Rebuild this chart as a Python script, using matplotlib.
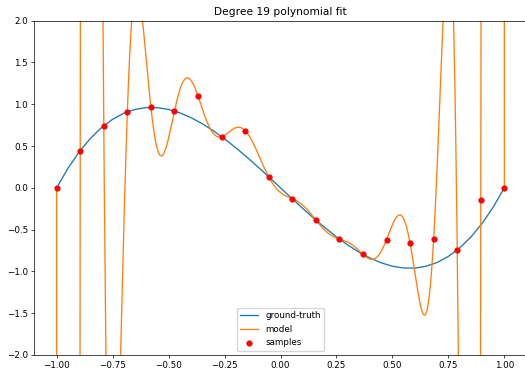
import numpy as np
import matplotlib
matplotlib.use("Agg")
import matplotlib.pyplot as plt

# Samples
sample_x = [-1.0, -0.8947, -0.7895, -0.6842, -0.5789, -0.4737, -0.3684, -0.2632,
            -0.1579, -0.0526, 0.0526, 0.1579, 0.2632, 0.3684, 0.4737, 0.5789,
            0.6842, 0.7895, 0.8947, 1.0]
sample_y = [0.0, 0.446, 0.744, 0.910, 0.962, 0.919, 1.096, 0.612,
            0.685, 0.131, -0.131, -0.385, -0.612, -0.796, -0.619, -0.662,
            -0.610, -0.744, -0.146, 0.0]

# Ground-truth curve
gt_x = [-1.00, -0.95, -0.90, -0.85, -0.80, -0.75, -0.70, -0.65, -0.60, -0.55,
        -0.50, -0.45, -0.40, -0.35, -0.30, -0.25, -0.20, -0.15, -0.10, -0.05,
        0.00, 0.05, 0.10, 0.15, 0.20, 0.25, 0.30, 0.35, 0.40, 0.45,
        0.50, 0.55, 0.60, 0.65, 0.70, 0.75, 0.80, 0.85, 0.90, 0.95, 1.00]
gt_y = [0.000, 0.232, 0.428, 0.590, 0.720, 0.820, 0.893, 0.938, 0.960, 0.959,
        0.938, 0.897, 0.840, 0.768, 0.683, 0.586, 0.480, 0.367, 0.248, 0.125,
        0.000, -0.125, -0.248, -0.367, -0.480, -0.586, -0.683, -0.768, -0.840, -0.897,
        -0.938, -0.959, -0.960, -0.938, -0.893, -0.820, -0.720, -0.590, -0.428, -0.232, 0.000]

degree = 19
title = "Degree 19 polynomial fit"

s = 0.635
plt.rcParams.update({
    "font.size": 10 * s,
    "axes.linewidth": 0.8 * s,
    "xtick.major.width": 0.8 * s,
    "ytick.major.width": 0.8 * s,
    "xtick.major.size": 3.5 * s,
    "ytick.major.size": 3.5 * s,
    "xtick.major.pad": 3.5 * s,
    "ytick.major.pad": 3.5 * s,
})

fig = plt.figure(figsize=(5.25, 3.72), dpi=100)
ax = fig.add_axes([0.0653, 0.0457, 0.938, 0.8987])

poly = np.polynomial.Polynomial.fit(sample_x, sample_y, degree)
xx = np.linspace(min(sample_x), max(sample_x), 4000)

ax.plot(gt_x, gt_y, color="#1f77b4", lw=1.5 * s, label="ground-truth")
ax.plot(xx, poly(xx), color="#ff7f0e", lw=1.5 * s, label="model")
ax.scatter(sample_x, sample_y, color="red", s=36 * s * s, linewidths=1.0 * s,
           zorder=3, label="samples")

ax.set_ylim(-2, 2)
ax.set_xlim(-1.1, 1.1)
ax.set_title(title, fontsize=12 * s, pad=6 * s)
ax.legend(loc="lower center", fontsize=10 * s, framealpha=0.8)

fig.savefig("out.png", dpi=100)
